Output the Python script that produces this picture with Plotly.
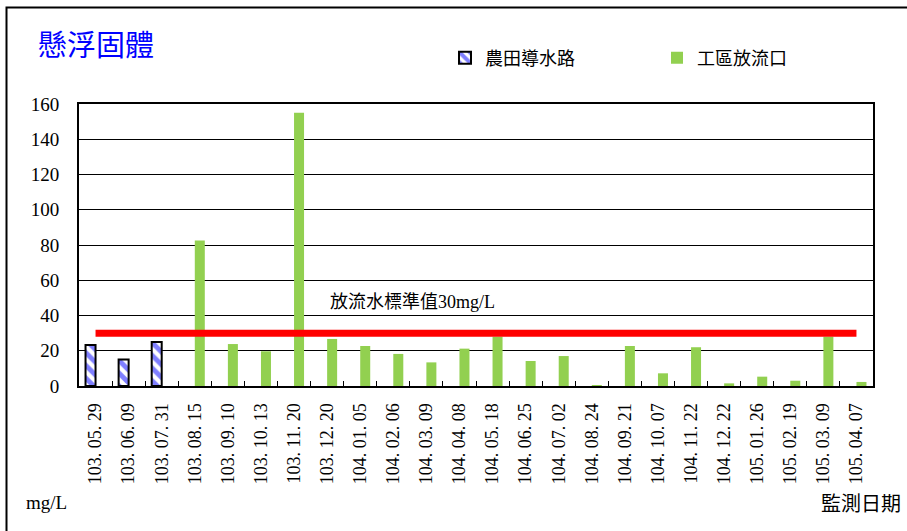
import plotly.graph_objects as go

dates = ["103. 05. 29", "103. 06. 09", "103. 07. 31", "103. 08. 15", "103. 09. 10",
         "103. 10. 13", "103. 11. 20", "103. 12. 20", "104. 01. 05", "104. 02. 06",
         "104. 03. 09", "104. 04. 08", "104. 05. 18", "104. 06. 25", "104. 07. 02",
         "104. 08. 24", "104. 09. 21", "104. 10. 07", "104. 11. 22", "104. 12. 22",
         "105. 01. 26", "105. 02. 19", "105. 03. 09", "105. 04. 07"]
farm_channel = [23.3, 15.1, 25.0] + [None] * 21
site_outlet = [None, None, None, 82.5, 23.8, 19.7, 155.0, 26.7, 22.7, 18.2,
               13.4, 21.2, 28.0, 14.2, 17.0, 0.5, 22.7, 7.2, 22.0, 1.5,
               5.3, 3.0, 28.0, 2.3]
standard_value = [30] * len(dates)

W, H = 907, 531
L, R, T, B = 79, 873, 104, 386


def px(x):
    return (x - L) / (R - L)


def py(y):
    return (B - y) / (B - T)


serif = "Liberation Serif, Times New Roman, serif"
cjk = "Liberation Serif, Noto Sans CJK TC, serif"

fig = go.Figure()
fig.add_trace(go.Bar(
    x=dates, y=farm_channel, name="農田導水路",
    marker=dict(color="white", line=dict(color="black", width=2),
                pattern=dict(shape="\\", fgcolor="#0000FF", bgcolor="white",
                             size=9, solidity=0.55)),
))
fig.add_trace(go.Bar(
    x=dates, y=site_outlet, name="工區放流口",
    marker=dict(color="#92D050", line=dict(width=0)),
))
fig.add_trace(go.Scatter(
    x=dates, y=standard_value, mode="lines", showlegend=False,
    line=dict(color="#FF0000", width=7),
))

fig.update_layout(
    width=W, height=H,
    margin=dict(l=L, r=W - R, t=T, b=H - B, pad=0),
    paper_bgcolor="white", plot_bgcolor="white",
    barmode="group", bargap=0.395, bargroupgap=0,
    showlegend=True,
    legend=dict(orientation="h", x=px(445), xanchor="left", y=py(58), yanchor="middle",
                font=dict(family="Noto Sans CJK TC", size=18, color="black"),
                entrywidth=167, itemwidth=30, bgcolor="rgba(0,0,0,0)",
                traceorder="normal"),
    font=dict(family=serif, color="black"),
)

fig.update_xaxes(
    type="category", showline=True, linecolor="black", linewidth=2, mirror=True,
    ticks="inside", ticklen=5, tickcolor="black", tickwidth=1, tickson="boundaries",
    tickangle=-90, tickfont=dict(family=serif, size=18, color="black"),
    ticklabelstandoff=8, showgrid=False,
)
fig.update_yaxes(
    range=[0, 160], dtick=20, showline=True, linecolor="black", linewidth=2, mirror=True,
    showgrid=True, gridcolor="black", gridwidth=1, zeroline=False,
    ticks="", tickfont=dict(family=serif, size=19, color="black"),
    ticklabelstandoff=14,
)

fig.add_annotation(text="懸浮固體", xref="paper", yref="paper", x=px(36), y=py(43),
                   xanchor="left", yanchor="middle", showarrow=False,
                   font=dict(family="Noto Sans CJK TC", size=29, color="#0000FF"))
fig.add_annotation(text="放流水標準值30mg/L", xref="paper", yref="paper", x=px(328), y=py(302),
                   xanchor="left", yanchor="middle", showarrow=False,
                   font=dict(family=cjk, size=18, color="black"))
fig.add_annotation(text="mg/L", xref="paper", yref="paper", x=px(24), y=py(503),
                   xanchor="left", yanchor="middle", showarrow=False,
                   font=dict(family=serif, size=19, color="black"))
fig.add_annotation(text="監測日期", xref="paper", yref="paper", x=px(903), y=py(503),
                   xanchor="right", yanchor="middle", showarrow=False,
                   font=dict(family="Noto Sans CJK TC", size=20, color="black"))

fig.add_shape(type="rect", xref="paper", yref="paper",
              x0=px(6.5), y0=py(540), x1=px(915), y1=py(7.5),
              line=dict(color="black", width=2), fillcolor="rgba(0,0,0,0)", layer="below")

fig.write_html("out.html")
